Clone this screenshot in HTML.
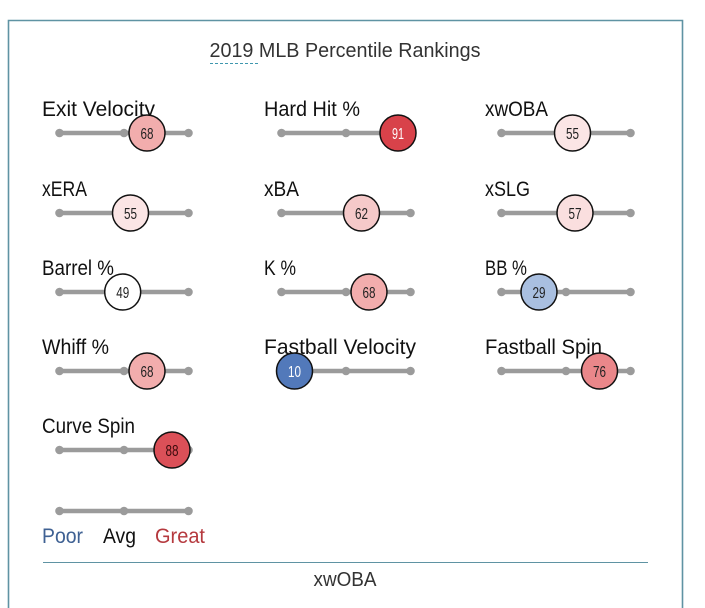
<!DOCTYPE html>
<html>
<head>
<meta charset="utf-8">
<style>
html,body{margin:0;padding:0;background:#fff;}
svg{display:block;}
text{font-family:"Liberation Sans",sans-serif;}
</style>
</head>
<body>
<svg width="705" height="608" viewBox="0 0 705 608" xmlns="http://www.w3.org/2000/svg">
  <rect x="0" y="0" width="705" height="608" fill="#fff"/>
  <!-- border -->
  <path d="M8.5,620 L8.5,20.5 L682.5,20.5 L682.5,620" fill="none" stroke="#5f93a3" stroke-width="1.6"/>
  <!-- title -->
  <text x="345" y="57" font-size="20" fill="#333" text-anchor="middle" textLength="271" lengthAdjust="spacingAndGlyphs">2019 MLB Percentile Rankings</text>
  <line x1="210" y1="63.5" x2="259" y2="63.5" stroke="#3f97ae" stroke-width="1" stroke-dasharray="3,2"/>

  <g font-size="21" fill="#111">
    <text x="42" y="116" textLength="113" lengthAdjust="spacingAndGlyphs">Exit Velocity</text>
    <text x="264" y="116" textLength="96" lengthAdjust="spacingAndGlyphs">Hard Hit %</text>
    <text x="485" y="116" textLength="63" lengthAdjust="spacingAndGlyphs">xwOBA</text>
    <text x="42" y="196" textLength="45" lengthAdjust="spacingAndGlyphs">xERA</text>
    <text x="264" y="196" textLength="35" lengthAdjust="spacingAndGlyphs">xBA</text>
    <text x="485" y="196" textLength="45" lengthAdjust="spacingAndGlyphs">xSLG</text>
    <text x="42" y="275" textLength="72" lengthAdjust="spacingAndGlyphs">Barrel %</text>
    <text x="264" y="275" textLength="32" lengthAdjust="spacingAndGlyphs">K %</text>
    <text x="485" y="275" textLength="42" lengthAdjust="spacingAndGlyphs">BB %</text>
    <text x="42" y="354" textLength="67" lengthAdjust="spacingAndGlyphs">Whiff %</text>
    <text x="264" y="354" textLength="152" lengthAdjust="spacingAndGlyphs">Fastball Velocity</text>
    <text x="485" y="354" textLength="117" lengthAdjust="spacingAndGlyphs">Fastball Spin</text>
    <text x="42" y="433" textLength="93" lengthAdjust="spacingAndGlyphs">Curve Spin</text>
  </g>

  <defs>
    <g id="trk">
      <line x1="0" y1="0" x2="129" y2="0" stroke="#9b9b9b" stroke-width="4.5"/>
      <circle cx="0" cy="0" r="4.3" fill="#9b9b9b"/>
      <circle cx="64.5" cy="0" r="4.3" fill="#9b9b9b"/>
      <circle cx="129" cy="0" r="4.3" fill="#9b9b9b"/>
    </g>
  </defs>

  <!-- tracks -->
  <use href="#trk" x="59.5" y="133"/>
  <use href="#trk" x="281.5" y="133"/>
  <use href="#trk" x="501.5" y="133"/>
  <use href="#trk" x="59.5" y="213"/>
  <use href="#trk" x="281.5" y="213"/>
  <use href="#trk" x="501.5" y="213"/>
  <use href="#trk" x="59.5" y="292"/>
  <use href="#trk" x="281.5" y="292"/>
  <use href="#trk" x="501.5" y="292"/>
  <use href="#trk" x="59.5" y="371"/>
  <use href="#trk" x="281.5" y="371"/>
  <use href="#trk" x="501.5" y="371"/>
  <use href="#trk" x="59.5" y="450"/>
  <use href="#trk" x="59.5" y="511"/>

  <!-- circles -->
  <g stroke="#111" stroke-width="1.5">
    <circle cx="147" cy="133" r="18" fill="#f2adad"/>
    <circle cx="398" cy="133" r="18" fill="#d8424a"/>
    <circle cx="572.5" cy="133" r="18" fill="#fbe5e5"/>
    <circle cx="130.5" cy="213" r="18" fill="#fbe5e5"/>
    <circle cx="361.5" cy="213" r="18" fill="#f5c9c9"/>
    <circle cx="575" cy="213" r="18" fill="#fadfdf"/>
    <circle cx="122.7" cy="292" r="18" fill="#ffffff"/>
    <circle cx="369" cy="292" r="18" fill="#f2adad"/>
    <circle cx="539" cy="292" r="18" fill="#a9bfe0"/>
    <circle cx="147" cy="371" r="18" fill="#f2adad"/>
    <circle cx="294.5" cy="371" r="18" fill="#5279ba"/>
    <circle cx="599.5" cy="371" r="18" fill="#ea878a"/>
    <circle cx="172" cy="450" r="18" fill="#db5058"/>
  </g>
  <g font-size="16" text-anchor="middle" fill="#222">
    <text x="147" y="139" textLength="13" lengthAdjust="spacingAndGlyphs">68</text>
    <text x="398" y="139" fill="#fff" textLength="12" lengthAdjust="spacingAndGlyphs">91</text>
    <text x="572.5" y="139" textLength="13" lengthAdjust="spacingAndGlyphs">55</text>
    <text x="130.5" y="219" textLength="13" lengthAdjust="spacingAndGlyphs">55</text>
    <text x="361.5" y="219" textLength="13" lengthAdjust="spacingAndGlyphs">62</text>
    <text x="575" y="219" textLength="13" lengthAdjust="spacingAndGlyphs">57</text>
    <text x="122.7" y="298" textLength="13" lengthAdjust="spacingAndGlyphs">49</text>
    <text x="369" y="298" textLength="13" lengthAdjust="spacingAndGlyphs">68</text>
    <text x="539" y="298" textLength="13" lengthAdjust="spacingAndGlyphs">29</text>
    <text x="147" y="377" textLength="13" lengthAdjust="spacingAndGlyphs">68</text>
    <text x="294.5" y="377" fill="#fff" textLength="13" lengthAdjust="spacingAndGlyphs">10</text>
    <text x="599.5" y="377" textLength="13" lengthAdjust="spacingAndGlyphs">76</text>
    <text x="172" y="456" fill="#3a0a0c" textLength="13" lengthAdjust="spacingAndGlyphs">88</text>
  </g>

  <!-- legend -->
  <g font-size="21">
    <text x="42" y="543" fill="#3f6193" textLength="41" lengthAdjust="spacingAndGlyphs">Poor</text>
    <text x="103" y="543" fill="#111" textLength="33" lengthAdjust="spacingAndGlyphs">Avg</text>
    <text x="155" y="543" fill="#b5393e" textLength="50" lengthAdjust="spacingAndGlyphs">Great</text>
  </g>

  <line x1="43" y1="562.5" x2="648" y2="562.5" stroke="#5f93a3" stroke-width="1"/>
  <text x="345" y="586" font-size="20" fill="#333" text-anchor="middle" textLength="63" lengthAdjust="spacingAndGlyphs">xwOBA</text>
</svg>
</body>
</html>
